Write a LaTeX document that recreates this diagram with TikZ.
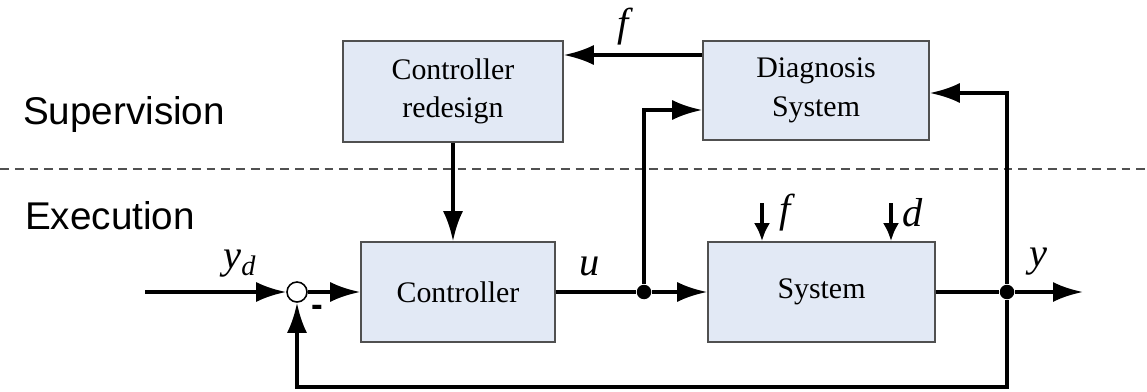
\documentclass[tikz,border=0pt]{standalone}
\usepackage{fontspec}
\setmainfont{Liberation Serif}
\setsansfont{Liberation Sans}
\usepackage{tikz}
\usetikzlibrary{arrows.meta}
\usetikzlibrary{positioning}
\definecolor{boxfill}{RGB}{226,233,245}
\definecolor{boxline}{RGB}{80,80,80}

\begin{document}
\begin{tikzpicture}[x=0.02cm, y=-0.02cm,
	block/.style={draw=boxline, fill=boxfill, line width=0.9pt, align=center, font=\fontsize{17}{22}\selectfont},
	sig/.style={line width=2.1pt, -{Latex[length=6mm, width=4mm]}},
	dist/.style={line width=2.1pt, -{Latex[length=3.6mm, width=3.2mm]}},
	wire/.style={line width=2.1pt},
	dot/.style={circle, fill=black, inner sep=0pt, minimum size=0.29cm},
	lab/.style={font=\fontsize{23}{27}\selectfont\itshape},
	layer/.style={font=\fontsize{22}{26}\sffamily}]
	\useasboundingbox (0,0) rectangle (1147,392);
	\draw[dashed, dash pattern=on 5pt off 3.4pt, line width=0.9pt, boxline] (0,169) -- (1147,169);
	\node[layer] (sup) at (124,115) {Supervision};
	\node[layer] (exe) at (110,216) {Execution};
	\node[block, minimum width=4.4cm, minimum height=2.02cm] (redesign) at (453,91.5) {Controller\\redesign};
	\node[block, minimum width=4.52cm, minimum height=1.98cm] (diag) at (816,90.5) {Diagnosis\\System};
	\node[block, minimum width=3.88cm, minimum height=2cm] (ctrl) at (458,292) {Controller};
	\node[block, minimum width=4.54cm, minimum height=2cm] (sys) at (821.5,292) {System};
	\node[circle, draw=black, fill=white, line width=0.9pt, inner sep=0pt, minimum size=0.4cm] (sum) at (297,292) {};
	\node[dot] (u) at (644,292) {};
	\node[dot] (y) at (1007,292) {};
	\coordinate (in) at (145,292);
	\coordinate (out) at (1083,292);
	\coordinate (fb) at (1007,387);
	\coordinate (fin) at (762,203);
	\coordinate (din) at (891,203);
	% signal path
	\draw[sig] (in) -- (sum);
	\draw[sig] (sum) -- (ctrl);
	\draw[wire] (ctrl) -- (u);
	\draw[sig] (u) -- (sys);
	\draw[wire] (sys) -- (y);
	\draw[sig] (y) -- (out);
	\draw[sig] (y) -- (fb) -| (sum);
	% supervision
	\draw[sig] (u) |- ([yshift=-0.39cm]diag.west);
	\draw[sig] (y) |- ([yshift=-0.05cm]diag.east);
	\draw[sig] ([yshift=0.71cm]diag.west) -- ([yshift=0.71cm]diag.west -| redesign.east);
	\draw[sig] (redesign.south) -- (redesign.south |- ctrl.north);
	\draw[dist] (fin) -- (fin |- sys.north);
	\draw[dist] (din) -- (din |- sys.north);
	% labels
	\node[lab] (lf) at (623,27) {f};
	\node[lab] (lu) at (590,266) {u};
	\node[lab] (lyd) at (240,264) {y\textsubscript{d}};
	\node[lab] (ly) at (1038,262) {y};
	\node[lab] (lf2) at (785,213) {f};
	\node[lab] (ld) at (913,213) {d};
	\node[font=\sffamily\bfseries\fontsize{20}{24}\selectfont] (minus) at (317,311) {-};
\end{tikzpicture}
\end{document}
